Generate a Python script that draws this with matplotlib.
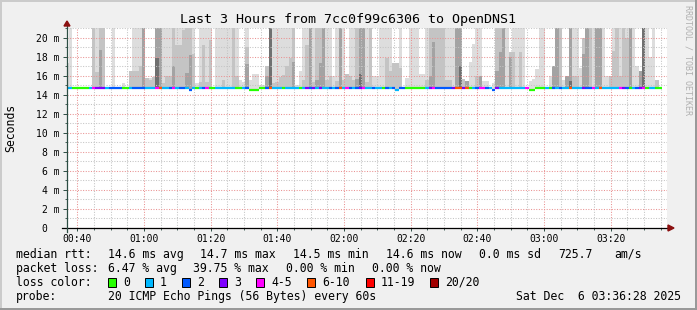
import matplotlib
matplotlib.use("Agg")
import matplotlib.pyplot as plt
from matplotlib.patches import Polygon, Rectangle
from matplotlib.ticker import MultipleLocator, FuncFormatter

plt.rcParams['font.family'] = ['DejaVu Sans Mono']

# ==========================================================
# data (one value per 60s step)
# ==========================================================
W, H = 697, 310
first_step = 36.4      # minutes after midnight, start of first step
view_start = 36.92     # left edge of graph (00:36:55)
view_len = 180         # 3 hours

# median rtt per step [ms]
median_rtt = [
    14.65, 14.65, 14.65, 14.65, 14.65, 14.65, 14.65, 14.65, 14.65, 14.65,
    14.65, 14.65, 14.65, 14.65, 14.65, 14.65, 14.65, 14.65, 14.65, 14.65,
    14.65, 14.65, 14.65, 14.65, 14.65, 14.65, 14.65, 14.65, 14.65, 14.65,
    14.65, 14.65, 14.65, 14.65, 14.65, 14.65, 14.65, 14.45, 14.65, 14.65,
    14.65, 14.65, 14.65, 14.65, 14.65, 14.65, 14.65, 14.65, 14.65, 14.65,
    14.65, 14.65, 14.65, 14.65, 14.65, 14.45, 14.45, 14.45, 14.65, 14.65,
    14.65, 14.65, 14.65, 14.65, 14.65, 14.65, 14.65, 14.65, 14.65, 14.65,
    14.65, 14.65, 14.65, 14.65, 14.65, 14.65, 14.65, 14.65, 14.65, 14.65,
    14.65, 14.65, 14.65, 14.65, 14.65, 14.65, 14.65, 14.65, 14.65, 14.65,
    14.65, 14.65, 14.65, 14.65, 14.65, 14.65, 14.65, 14.65, 14.65, 14.45,
    14.65, 14.65, 14.65, 14.65, 14.65, 14.65, 14.65, 14.65, 14.65, 14.65,
    14.65, 14.65, 14.65, 14.65, 14.65, 14.65, 14.65, 14.65, 14.65, 14.65,
    14.65, 14.65, 14.65, 14.65, 14.65, 14.65, 14.65, 14.65, 14.45, 14.65,
    14.65, 14.65, 14.65, 14.65, 14.65, 14.65, 14.65, 14.65, 14.65, 14.45,
    14.45, 14.65, 14.65, 14.65, 14.65, 14.65, 14.65, 14.65, 14.65, 14.65,
    14.65, 14.65, 14.65, 14.65, 14.65, 14.65, 14.65, 14.65, 14.65, 14.65,
    14.65, 14.65, 14.65, 14.65, 14.65, 14.65, 14.65, 14.65, 14.65, 14.65,
    14.65, 14.65, 14.65, 14.65, 14.65, 14.65, 14.65, 14.65, 14.65,
]

# lost pings (of 20) per step
lost_pings = [
    1, 1, 0, 0, 0, 0, 0, 1, 4, 3,
    3, 3, 1, 2, 2, 2, 2, 0, 0, 1,
    2, 2, 2, 2, 1, 1, 1, 4, 7, 1,
    1, 2, 4, 1, 2, 2, 1, 2, 1, 0,
    1, 2, 4, 0, 0, 1, 1, 1, 1, 1,
    1, 0, 0, 1, 2, 0, 0, 0, 0, 0,
    2, 7, 1, 1, 1, 0, 1, 1, 1, 1,
    0, 1, 3, 2, 3, 1, 3, 1, 1, 2,
    1, 2, 7, 1, 4, 2, 1, 2, 3, 4,
    1, 1, 2, 1, 1, 0, 2, 1, 2, 1,
    2, 2, 0, 0, 0, 0, 0, 0, 1, 3,
    4, 2, 2, 2, 2, 2, 3, 7, 7, 3,
    7, 0, 1, 2, 4, 4, 2, 1, 2, 3,
    1, 1, 1, 1, 1, 1, 1, 1, 4, 0,
    0, 0, 0, 0, 1, 0, 2, 1, 2, 1,
    1, 7, 1, 1, 1, 3, 2, 2, 4, 1,
    7, 1, 1, 1, 1, 1, 4, 3, 2, 0,
    1, 2, 3, 4, 0, 1, 1, 0, 0,
]

# smoke: top of each grey band per step [ms] (0 = band absent, 21 = off scale)
smoke_light = [
    17.3, 21, 0, 0, 0, 0, 0, 0, 21, 21,
    21, 21, 0, 0, 21, 0, 0, 15.2, 0, 16.5,
    21, 21, 21, 21, 15.7, 15.8, 15.9, 21, 21, 21,
    21, 21, 21, 21, 21, 21, 21, 21, 21, 15.2,
    21, 21, 21, 21, 0, 21, 21, 21, 21, 21,
    21, 21, 15.5, 15.3, 21, 15.5, 16.2, 16.2, 15.0, 15.0,
    17.0, 21, 21, 21, 21, 21, 21, 21, 21, 15.0,
    16.5, 21, 21, 21, 21, 21, 21, 21, 21, 21,
    16.0, 21, 21, 21, 16.2, 21, 21, 21, 21, 21,
    21, 21, 16.0, 16.0, 21, 21, 21, 21, 17.3, 17.3,
    21, 0, 15.8, 21, 21, 21, 16.2, 16.2, 21, 21,
    21, 21, 21, 21, 21, 21, 21, 21, 21, 15.6,
    15.4, 17.4, 19.3, 21, 21, 15.4, 15.4, 0, 15.2, 21,
    21, 21, 21, 18.5, 21, 21, 21, 21, 0, 15.4,
    15.6, 16.7, 21, 21, 0, 16.0, 17.0, 21, 21, 15.5,
    16.0, 21, 21, 21, 16.8, 20.0, 21, 21, 21, 21,
    21, 21, 16.0, 16.0, 21, 21, 21, 21, 21, 21,
    21, 17.0, 16.5, 21, 21, 18.0, 21, 15.5, 0,
]
smoke_mid = [
    0, 0, 0, 0, 0, 0, 0, 0, 21, 16.4,
    21, 21, 0, 0, 0, 0, 0, 0, 0, 16.5,
    16.5, 16.5, 17.0, 21, 15.7, 15.5, 15.9, 21, 21, 15.2,
    16.0, 16.0, 21, 19.2, 19.2, 20.8, 21, 21, 18.3, 0,
    15.3, 19.2, 15.3, 19.7, 0, 0, 0, 15.5, 0, 0,
    21, 16.0, 0, 0, 19.0, 0, 0, 0, 0, 0,
    17.0, 21, 15.2, 15.3, 15.9, 16.1, 17.0, 17.8, 21, 0,
    0, 15.5, 19.2, 21, 15.3, 21, 21, 21, 15.5, 16.0,
    0, 15.4, 21, 15.5, 16.2, 16.0, 15.5, 21, 21, 21,
    15.3, 21, 0, 0, 0, 0, 17.8, 16.5, 17.3, 17.3,
    16.8, 0, 0, 0, 0, 0, 0, 0, 15.5, 21,
    21, 21, 21, 21, 15.5, 15.5, 0, 21, 21, 15.6,
    15.4, 0, 0, 16.0, 16.0, 0, 0, 0, 0, 21,
    21, 21, 0, 18.5, 18.5, 0, 18.5, 0, 0, 0,
    0, 0, 0, 0, 0, 0, 17.0, 21, 21, 0,
    16.0, 21, 16.0, 16.0, 0, 20.0, 21, 21, 0, 21,
    21, 0, 0, 16.0, 18.6, 21, 16.0, 21, 20.0, 21,
    0, 0, 16.5, 21, 0, 0, 0, 15.5, 0,
]
smoke_dark = [
    0, 0, 0, 0, 0, 0, 0, 0, 0, 0,
    18.7, 0, 0, 0, 0, 0, 0, 0, 0, 0,
    0, 0, 0, 21, 0, 0, 0, 21, 21, 0,
    0, 0, 17.0, 0, 0, 0, 16.3, 18.2, 0, 0,
    0, 0, 0, 0, 0, 0, 0, 0, 0, 0,
    0, 0, 0, 0, 17.2, 0, 0, 0, 0, 0,
    16.0, 21, 0, 0, 0, 0, 0, 0, 17.4, 0,
    0, 0, 0, 21, 0, 15.5, 17.3, 21, 0, 0,
    0, 0, 21, 0, 0, 0, 0, 15.6, 21, 21,
    0, 0, 0, 0, 0, 0, 0, 0, 0, 0,
    0, 0, 0, 0, 0, 0, 0, 0, 0, 16.0,
    19.5, 0, 0, 0, 0, 0, 0, 21, 21, 0,
    15.4, 0, 0, 0, 16.0, 0, 0, 0, 0, 16.5,
    18.5, 21, 0, 18.0, 0, 0, 0, 0, 0, 0,
    0, 0, 0, 0, 0, 0, 17.0, 21, 0, 0,
    16.0, 21, 0, 0, 0, 18.3, 21, 0, 0, 21,
    21, 0, 0, 0, 0, 0, 0, 0, 0, 21,
    0, 0, 16.5, 21, 0, 0, 0, 0, 0,
]
smoke_darkest = [
    0, 0, 0, 0, 0, 0, 0, 0, 0, 0,
    0, 0, 0, 0, 0, 0, 0, 0, 0, 0,
    0, 0, 0, 0, 0, 0, 0, 17.9, 0, 0,
    0, 0, 0, 0, 0, 0, 0, 0, 0, 0,
    0, 0, 0, 0, 0, 0, 0, 0, 0, 0,
    0, 0, 0, 0, 0, 0, 0, 0, 0, 0,
    0, 21, 0, 0, 0, 0, 0, 0, 0, 0,
    0, 0, 0, 0, 0, 0, 0, 0, 0, 0,
    0, 0, 0, 0, 0, 0, 0, 0, 16.2, 0,
    0, 0, 0, 0, 0, 0, 0, 0, 0, 0,
    0, 0, 0, 0, 0, 0, 0, 0, 0, 0,
    0, 0, 0, 0, 0, 0, 0, 0, 17.0, 0,
    0, 0, 0, 0, 0, 0, 0, 0, 0, 0,
    0, 0, 0, 0, 0, 0, 0, 0, 0, 0,
    0, 0, 0, 0, 0, 0, 0, 0, 0, 0,
    0, 15.4, 0, 0, 0, 0, 0, 0, 0, 0,
    0, 0, 0, 0, 0, 0, 0, 0, 0, 0,
    0, 0, 0, 21, 0, 0, 0, 0, 0,
]

y_ticks = [0, 2, 4, 6, 8, 10, 12, 14, 16, 18, 20]
loss_labels = ["0", "1", "2", "3", "4-5", "6-10", "11-19", "20/20"]
loss_limits = [0, 1, 2, 3, 5, 10, 19, 20]
loss_colors = ["#26ff00", "#00b8ff", "#0059ff", "#7e00ff",
               "#ff00ff", "#ff5500", "#ff0000", "#a10000"]

title = "Last 3 Hours from 7cc0f99c6306 to OpenDNS1"
rtt_stats = ["14.6 ms avg", "14.7 ms max", "14.5 ms min", "14.6 ms now", "0.0 ms sd", "725.7", "am/s"]
loss_stats = ["6.47 % avg", "39.75 % max", "0.00 % min", "0.00 % now"]
probe_text = "20 ICMP Echo Pings (56 Bytes) every 60s"
stamp_text = "Sat Dec  6 03:36:28 2025"


def loss_color(n):
    for lim, col in zip(loss_limits, loss_colors):
        if n <= lim:
            return col
    return loss_colors[-1]


def fx(px):
    return px / W


def fy(py):
    return 1 - py / H


# ==========================================================
# figure / axes
# ==========================================================
fig = plt.figure(figsize=(W / 100, H / 100), dpi=100, facecolor="#f0f0f0")
ax = fig.add_axes([fx(67), fy(228), 600 / W, 200 / H])
ax.set_facecolor("white")
for s in ax.spines.values():
    s.set_visible(False)

steps = [first_step + i for i in range(len(median_rtt))]

# smoke bands, light to dark
for tops, shade in [(smoke_light, "#dddddd"), (smoke_mid, "#c4c4c4"),
                    (smoke_dark, "#a3a3a3"), (smoke_darkest, "#707070")]:
    heights = [max(t - m, 0) for t, m in zip(tops, median_rtt)]
    ax.bar(steps, heights, bottom=median_rtt, width=1.0, align="edge",
           color=shade, linewidth=0, zorder=1)

# grid on top of the smoke
ax.xaxis.set_major_locator(MultipleLocator(20))
ax.xaxis.set_minor_locator(MultipleLocator(5))
# "0" sits under the digits, not under the unit (figure spaces keep the width)
ax.set_yticks(y_ticks, labels=["0\u2007\u2007" if v == 0 else f"{v} m" for v in y_ticks])
ax.yaxis.set_minor_locator(MultipleLocator(1))
ax.set_axisbelow(False)
ax.grid(which="minor", color="#c4c4c4", lw=0.75, ls=(0, (1, 1.5)), zorder=2)
ax.grid(which="major", color="#e99292", lw=0.75, ls=(0, (1, 1.5)), zorder=2)

# median line coloured by loss
ax.hlines(median_rtt, steps, [s + 1 for s in steps],
          colors=[loss_color(n) for n in lost_pings], linewidth=1.6, zorder=4,
          capstyle="butt")

ax.set_xlim(view_start, view_start + view_len)
ax.set_ylim(0, 21)

ax.xaxis.set_major_formatter(FuncFormatter(lambda v, p: f"{int(v) // 60:02d}:{int(v) % 60:02d}"))
ax.tick_params(axis="x", which="major", length=2.5, width=0.7, color="#2c4d43", pad=1.5, labelsize=7)
ax.tick_params(axis="y", which="major", length=3, width=0.7, color="#2c4d43", pad=2.6, labelsize=7)
ax.tick_params(which="minor", length=1.5, width=0.6, color="#2c4d43")

# axis lines + arrows
ax.plot([-5 / 600, 1 + 1 / 600], [0, 0], transform=ax.transAxes, clip_on=False, color="black", lw=0.9, zorder=5)
ax.plot([0, 0], [-4 / 200, 1 + 2 / 200], transform=ax.transAxes, clip_on=False, color="#2c4d43", lw=0.9, zorder=5)
ax.add_patch(Polygon([(1 + 1 / 600, 3 / 200), (1 + 1 / 600, -3 / 200), (1 + 7 / 600, 0)],
                     closed=True, transform=ax.transAxes, clip_on=False, color="#8b1010", zorder=6))
ax.add_patch(Polygon([(-3 / 600, 1 + 2 / 200), (3 / 600, 1 + 2 / 200), (0, 1 + 7 / 200)],
                     closed=True, transform=ax.transAxes, clip_on=False, color="#8b1010", zorder=6))

# ==========================================================
# texts
# ==========================================================
fig.text(fx(348), fy(19.3), title, ha="center", va="center", fontsize=9.6)
fig.text(fx(11), fy(127.5), "Seconds", rotation=90, ha="center", va="center", fontsize=8.3)
fig.text(fx(688), fy(5), "RRDTOOL / TOBI OETIKER", rotation=270, ha="center", va="top",
         fontsize=6, color="#b0b0b0")

rows = [254.3, 268.3, 282.0, 296.3]
fs = 8.3
fig.text(fx(16), fy(rows[0]), "median rtt:", va="center", fontsize=fs)
for xp, s in zip([107.5, 200, 293, 386, 479, 558, 614], rtt_stats):
    fig.text(fx(xp), fy(rows[0]), s, va="center", fontsize=fs)

fig.text(fx(16), fy(rows[1]), "packet loss:", va="center", fontsize=fs)
for xp, s in zip([107.5, 193, 286, 372], loss_stats):
    fig.text(fx(xp), fy(rows[1]), s, va="center", fontsize=fs)

fig.text(fx(16), fy(rows[2]), "loss color:", va="center", fontsize=fs)
for xp, lab, col in zip([108, 145, 182, 219, 256, 307, 366, 430], loss_labels, loss_colors):
    fig.add_artist(Rectangle((fx(xp), fy(rows[2] + 4.5)), 8 / W, 9 / H, facecolor=col,
                             edgecolor="black", lw=0.7, transform=fig.transFigure))
    fig.text(fx(xp + 15), fy(rows[2]), lab, va="center", fontsize=fs)

fig.text(fx(16), fy(rows[3]), "probe:", va="center", fontsize=fs)
fig.text(fx(107.5), fy(rows[3]), probe_text, va="center", fontsize=fs)
fig.text(fx(681), fy(rows[3]), stamp_text, ha="right", va="center", fontsize=fs)

# 3d frame
fig.add_artist(Rectangle((0, fy(2)), 1, 2 / H, facecolor="#cbcbcb", lw=0, transform=fig.transFigure))
fig.add_artist(Rectangle((0, 0), 2 / W, 1, facecolor="#cbcbcb", lw=0, transform=fig.transFigure))
fig.add_artist(Rectangle((0, 0), 1, 2 / H, facecolor="#999999", lw=0, transform=fig.transFigure))
fig.add_artist(Rectangle((fx(695), 0), 2 / W, 1, facecolor="#999999", lw=0, transform=fig.transFigure))

fig.savefig("out.png", dpi=100, facecolor=fig.get_facecolor())
